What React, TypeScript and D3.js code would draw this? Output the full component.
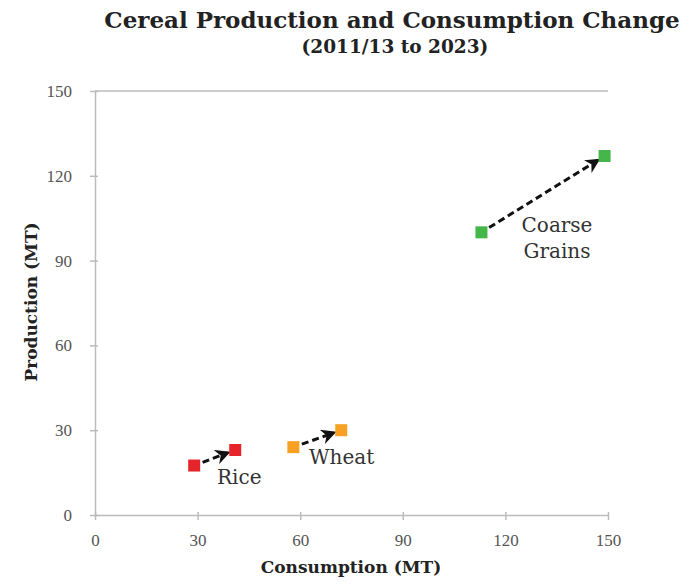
import React, { useEffect, useRef } from 'react';
import * as d3 from 'd3';

const crops = ['Rice', 'Wheat', 'Coarse Grains'];
const colors = ['#e6252b', '#f6a124', '#45b649'];
const consumptionStart = [29, 58, 113];
const consumptionEnd = [41, 72, 149];
const productionStart = [17.5, 24, 100];
const productionEnd = [23, 30, 127];
const ticks = [0, 30, 60, 90, 120, 150];

const App = () => {
  const ref = useRef<SVGSVGElement>(null);

  useEffect(() => {
    const svg = d3.select(ref.current);
    svg.selectAll('*').remove();
    const width = 697;
    const height = 586;
    const margin = { top: 91, right: 89, bottom: 71, left: 95 };
    const serif = '"DejaVu Serif", "Liberation Serif", serif';
    const tickFont = '"Liberation Serif", serif';

    const x = d3.scaleLinear().domain([0, 150]).range([margin.left, width - margin.right]);
    const y = d3.scaleLinear().domain([0, 150]).range([height - margin.bottom, margin.top]);

    svg
      .append('defs')
      .append('marker')
      .attr('id', 'arrowhead')
      .attr('viewBox', '0 0 10 10')
      .attr('refX', 8)
      .attr('refY', 5)
      .attr('markerWidth', 5)
      .attr('markerHeight', 5)
      .attr('orient', 'auto')
      .append('path')
      .attr('d', 'M0,0 L10,5 L0,10 L3,5 Z')
      .attr('fill', '#111');

    // title
    const title = svg
      .append('text')
      .attr('text-anchor', 'middle')
      .style('font-family', serif)
      .style('font-weight', 'bold')
      .style('font-size', '23px')
      .attr('fill', '#222');
    title.append('tspan').attr('x', 392).attr('y', 28).text('Cereal Production and Consumption Change');
    title.append('tspan').attr('x', 395).attr('y', 53).style('font-size', '18.5px').text('(2011/13 to 2023)');

    // top border line at max
    svg
      .append('line')
      .attr('x1', x(0))
      .attr('x2', x(150))
      .attr('y1', y(150))
      .attr('y2', y(150))
      .attr('stroke', '#bbb')
      .attr('stroke-width', 1.5);

    const xAxis = svg
      .append('g')
      .attr('transform', `translate(0,${y(0)})`)
      .call(d3.axisBottom(x).tickValues(ticks).tickSize(5).tickSizeOuter(0).tickPadding(14));
    const yAxis = svg
      .append('g')
      .attr('transform', `translate(${x(0)},0)`)
      .call(d3.axisLeft(y).tickValues(ticks).tickSize(5).tickSizeOuter(0).tickPadding(18));

    [xAxis, yAxis].forEach((g) => {
      g.select('.domain').attr('stroke', '#bbb').attr('stroke-width', 1.5);
      g.selectAll('.tick line').attr('stroke', '#bbb').attr('stroke-width', 1.5);
      g.selectAll('.tick text')
        .attr('fill', '#555')
        .style('font-family', tickFont)
        .style('font-size', '17px');
    });
    xAxis.selectAll('.tick line').attr('y1', -3);
    yAxis.selectAll('.tick line').attr('x1', 3);

    svg
      .append('text')
      .attr('x', 351)
      .attr('y', 573)
      .attr('text-anchor', 'middle')
      .style('font-family', serif)
      .style('font-weight', 'bold')
      .style('font-size', '17px')
      .attr('fill', '#222')
      .text('Consumption (MT)');

    svg
      .append('text')
      .attr('transform', `translate(37,302) rotate(-90)`)
      .attr('text-anchor', 'middle')
      .style('font-family', serif)
      .style('font-weight', 'bold')
      .style('font-size', '17px')
      .attr('fill', '#222')
      .text('Production (MT)');

    const data = crops.map((name, i) => ({
      name,
      color: colors[i],
      x0: consumptionStart[i],
      x1: consumptionEnd[i],
      y0: productionStart[i],
      y1: productionEnd[i],
    }));

    // arrows
    data.forEach((d) => {
      const ax = x(d.x0);
      const ay = y(d.y0);
      const bx = x(d.x1);
      const by = y(d.y1);
      const len = Math.hypot(bx - ax, by - ay);
      const ux = (bx - ax) / len;
      const uy = (by - ay) / len;
      svg
        .append('line')
        .attr('x1', ax + ux * 9)
        .attr('y1', ay + uy * 9)
        .attr('x2', bx - ux * 8)
        .attr('y2', by - uy * 8)
        .attr('stroke', '#111')
        .attr('stroke-width', 3)
        .attr('stroke-dasharray', '7,4')
        .attr('marker-end', 'url(#arrowhead)');
    });

    const size = 12;
    data.forEach((d) => {
      [
        [d.x0, d.y0],
        [d.x1, d.y1],
      ].forEach(([px, py]) => {
        svg
          .append('rect')
          .attr('x', x(px) - size / 2)
          .attr('y', y(py) - size / 2)
          .attr('width', size)
          .attr('height', size)
          .attr('fill', d.color);
      });
    });

    const labelStyle = (t: any) =>
      t
        .style('font-family', serif)
        .style('font-size', '20px')
        .attr('fill', '#333');

    labelStyle(svg.append('text').attr('x', 217).attr('y', 484).text('Rice'));
    labelStyle(svg.append('text').attr('x', 309).attr('y', 464).text('Wheat'));
    const cg = labelStyle(svg.append('text').attr('text-anchor', 'middle'));
    cg.append('tspan').attr('x', 557).attr('y', 232).text('Coarse');
    cg.append('tspan').attr('x', 557).attr('y', 258).text('Grains');
  }, []);

  return (
    <div style={{ width: 697, height: 586, margin: -8, background: '#fff' }}>
      <svg ref={ref} width={697} height={586} />
    </div>
  );
};

export default App;
